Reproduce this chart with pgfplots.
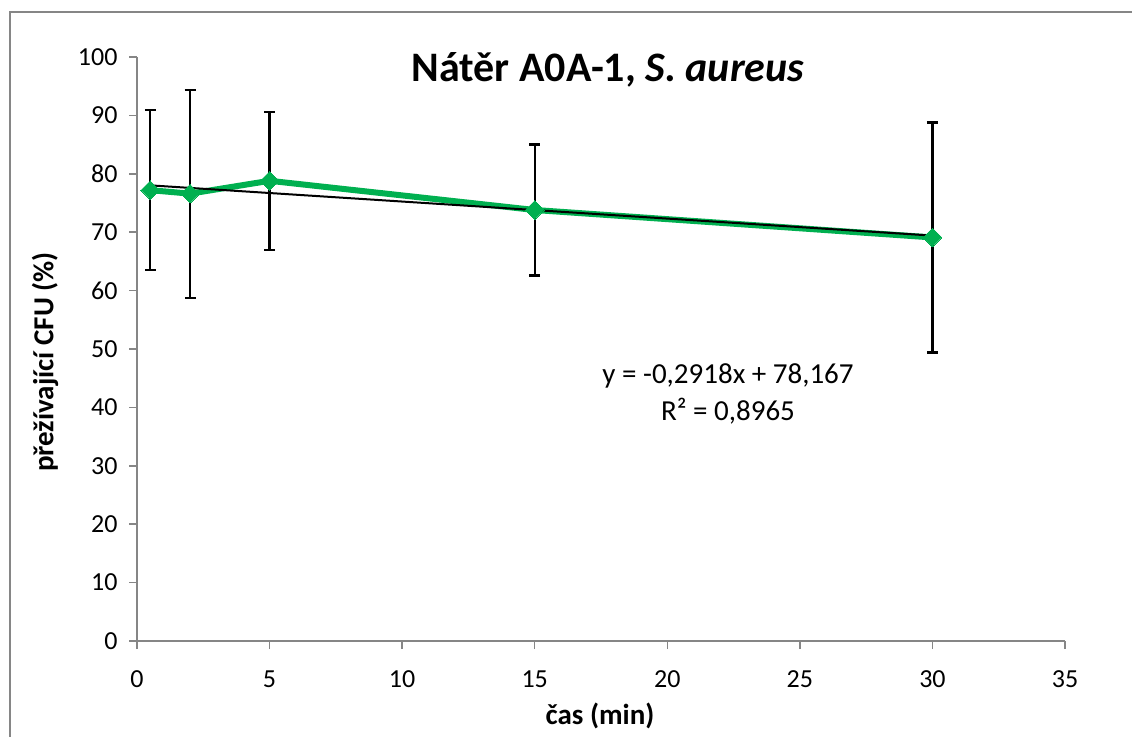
\documentclass[border=0pt]{standalone}
\usepackage{fontspec}
\setmainfont{Carlito}
\usepackage{pgfplots}
\usepackage{pgfplotstable}
\pgfplotsset{compat=1.18}
\definecolor{axisgray}{HTML}{868686}
\definecolor{seriesgreen}{HTML}{00B050}

% survival (%) over time, mean and standard deviation
\pgfplotstableread{
x    y     e
0.5  77.2  13.7
2    76.6  17.8
5    78.8  11.8
15   73.8  11.2
30   69.1  19.7
}\survival

% linear trend y = -0.2918x + 78.167 over the measured range
\pgfplotstableread{
x    y
0.5  78.021
30   69.413
}\trend

\begin{document}
\begin{tikzpicture}[x=1pt,y=1pt]
\useasboundingbox (0,0) rectangle (1132,736);
\fill[white] (0,0) rectangle (1132,736);
\draw[axisgray, line width=2pt] (10,-2) -- (10,724) -- (1134,724);
\begin{axis}[
  at={(137pt,95pt)}, anchor=south west,
  scale only axis, width=928pt, height=584pt,
  xmin=0, xmax=35, ymin=0, ymax=100,
  axis lines=left,
  axis line style={axisgray, line width=1.5pt, -},
  xtick={0,5,...,35}, ytick={0,10,...,100},
  tick align=outside, major tick length=8pt,
  tick style={axisgray, line width=1.5pt},
  /pgf/number format/assume math mode=true,
  tick label style={font=\fontsize{26}{31}\selectfont, black},
  xticklabel style={yshift=-18pt},
  yticklabel style={xshift=-8pt},
  clip=false,
]
% error bars only
\addplot[black, line width=2.2pt, only marks, mark=none, forget plot,
  error bars/.cd, y dir=both, y explicit, error mark=|,
  error bar style={black, line width=2.2pt},
  error mark options={black, line width=2.2pt, mark size=5.5pt}]
  table[x=x, y=y, y error=e] {\survival};
\addplot[seriesgreen, line width=6pt, mark=square*, mark size=6.6pt,
  mark options={rotate=45, solid, line width=0pt, fill=seriesgreen}]
  table[x=x, y=y] {\survival};
\addplot[black, line width=2pt, mark=none] table[x=x, y=y] {\trend};
\end{axis}
\node[font=\fontsize{42}{50}\selectfont\bfseries] at (608,666) {Nátěr A0A-1, \textit{S. aureus}};
\node[font=\fontsize{29}{37}\selectfont, align=center] at (728,342) {y = -0,2918x + 78,167\\R² = 0,8965};
\node[font=\fontsize{29}{35}\selectfont\bfseries, rotate=90] at (45,374) {přežívající CFU (\%)};
\node[font=\fontsize{29}{35}\selectfont\bfseries] at (600,20) {čas (min)};
\end{tikzpicture}
\end{document}
